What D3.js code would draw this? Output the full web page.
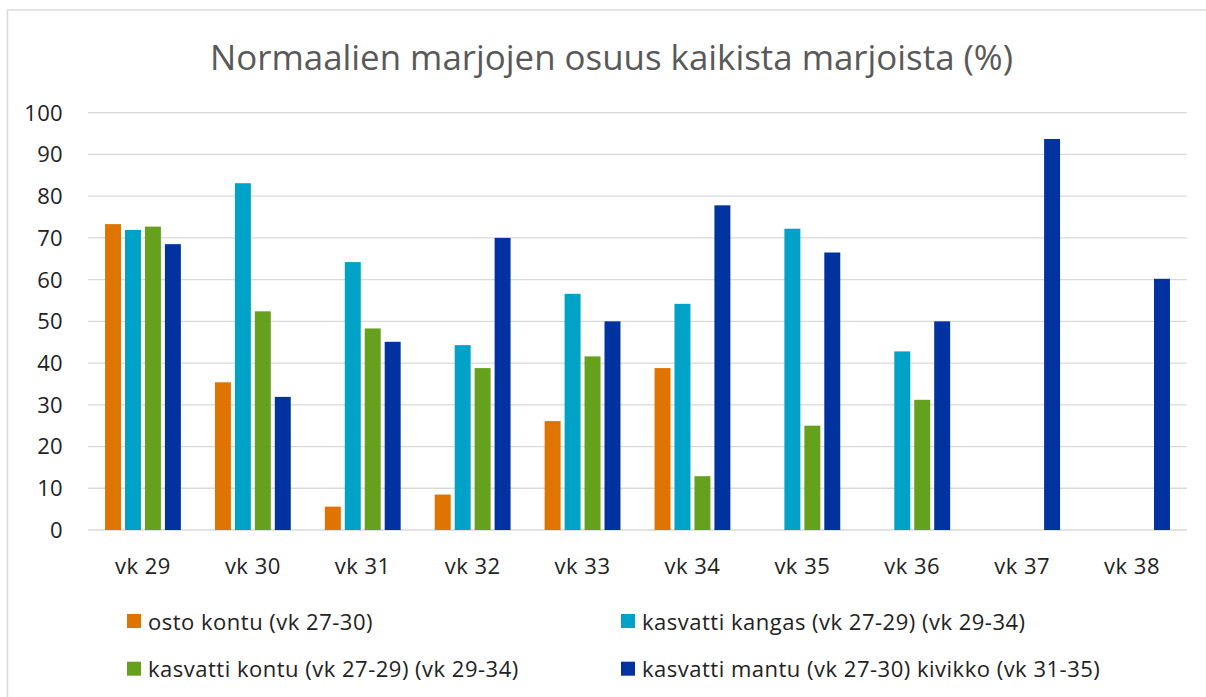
<!DOCTYPE html>
<html>
<head>
<meta charset="utf-8">
<script src="https://cdn.jsdelivr.net/npm/d3@7"></script>
<style>
    body { margin: 0; background: #fff; }
    text { font-family: "Segoe UI", "Open Sans", sans-serif; }
</style>
</head>
<body>
<script>
const weeks = ["vk 29", "vk 30", "vk 31", "vk 32", "vk 33", "vk 34", "vk 35", "vk 36", "vk 37", "vk 38"];
const seriesNames = ["osto kontu (vk 27-30)", "kasvatti kangas (vk 27-29) (vk 29-34)",
    "kasvatti kontu (vk 27-29) (vk 29-34)", "kasvatti mantu (vk 27-30) kivikko (vk 31-35)"];
const ostoKontu = [73.3, 35.4, 5.6, 8.5, 26.1, 38.8, null, null, null, null];
const kasvattiKangas = [71.9, 83.1, 64.2, 44.3, 56.6, 54.2, 72.2, 42.8, null, null];
const kasvattiKontu = [72.7, 52.4, 48.3, 38.8, 41.6, 12.9, 25.0, 31.2, null, null];
const kasvattiMantu = [68.5, 31.9, 45.1, 70.0, 50.0, 77.8, 66.5, 50.0, 93.7, 60.2];
const yTicks = [0, 10, 20, 30, 40, 50, 60, 70, 80, 90, 100];
const colors = ["#e07400", "#00a2c8", "#66a11e", "#0033a0"];

const allSeries = [ostoKontu, kasvattiKangas, kasvattiKontu, kasvattiMantu];

const width = 1206, height = 697;
const svg = d3.select("body").append("svg")
    .attr("width", width)
    .attr("height", height);

// chart border (runs off the right and bottom)
svg.append("rect")
    .attr("x", 7.5).attr("y", 10)
    .attr("width", 1220).attr("height", 720)
    .attr("fill", "none")
    .attr("stroke", "#d9d9d9")
    .attr("stroke-width", 1.5);

const title = svg.append("text")
    .attr("x", 611.5)
    .attr("y", 70)
    .attr("text-anchor", "middle")
    .attr("fill", "#595959")
    .attr("font-size", 36)
    .text("Normaalien marjojen osuus kaikista marjoista (%)");
// fit title to the reference width
let tw = title.node().getComputedTextLength();
title.attr("font-size", 36 * 803 / tw);

let x0 = d3.scaleBand()
    .domain(weeks)
    .range([88, 1187])
    .padding(0);

let bw = x0.bandwidth();
let x1 = d3.scaleBand()
    .domain(d3.range(allSeries.length))
    .range([bw * 0.155, bw * 0.845])
    .paddingInner(0.2);

let y = d3.scaleLinear()
    .domain([0, 100])
    .range([530, 112.7]);

// gridlines
svg.append("g")
    .selectAll("line")
    .data(yTicks)
    .enter()
    .append("line")
    .attr("x1", 88)
    .attr("x2", 1187)
    .attr("y1", d => y(d))
    .attr("y2", d => y(d))
    .attr("stroke", "#d9d9d9")
    .attr("stroke-width", 1.3);

// y tick labels
svg.append("g")
    .selectAll("text")
    .data(yTicks)
    .enter()
    .append("text")
    .attr("x", 63)
    .attr("y", d => y(d))
    .attr("dy", "0.36em")
    .attr("text-anchor", "end")
    .attr("font-size", 22)
    .attr("letter-spacing", 0.3)
    .attr("fill", "#222")
    .text(d => d);

// bars
let groups = svg.append("g")
    .selectAll("g")
    .data(weeks)
    .enter()
    .append("g")
    .attr("transform", d => "translate(" + x0(d) + ",0)");

groups.selectAll("rect")
    .data((d, i) => allSeries.map((s, k) => ({k: k, v: s[i]})).filter(e => e.v != null))
    .enter()
    .append("rect")
    .attr("x", d => x1(d.k))
    .attr("width", x1.bandwidth())
    .attr("y", d => y(d.v))
    .attr("height", d => y(0) - y(d.v))
    .attr("fill", d => colors[d.k]);

// x labels
svg.append("g")
    .selectAll("text")
    .data(weeks)
    .enter()
    .append("text")
    .attr("x", d => x0(d) + bw / 2)
    .attr("y", 574)
    .attr("text-anchor", "middle")
    .attr("font-size", 22)
    .attr("letter-spacing", 0.5)
    .attr("fill", "#222")
    .text(d => d);

// legend
let legend = svg.append("g")
    .selectAll("g")
    .data(seriesNames)
    .enter()
    .append("g")
    .attr("transform", (d, i) => "translate(" + (i % 2 === 0 ? 127 : 621) + "," + (614 + Math.floor(i / 2) * 47.7) + ")");

legend.append("rect")
    .attr("width", 14)
    .attr("height", 14)
    .attr("fill", (d, i) => colors[i]);

legend.append("text")
    .attr("x", 21)
    .attr("y", 15.5)
    .attr("font-size", 22)
    .attr("letter-spacing", 0.5)
    .attr("fill", "#222")
    .text(d => d);
</script>
</body>
</html>
